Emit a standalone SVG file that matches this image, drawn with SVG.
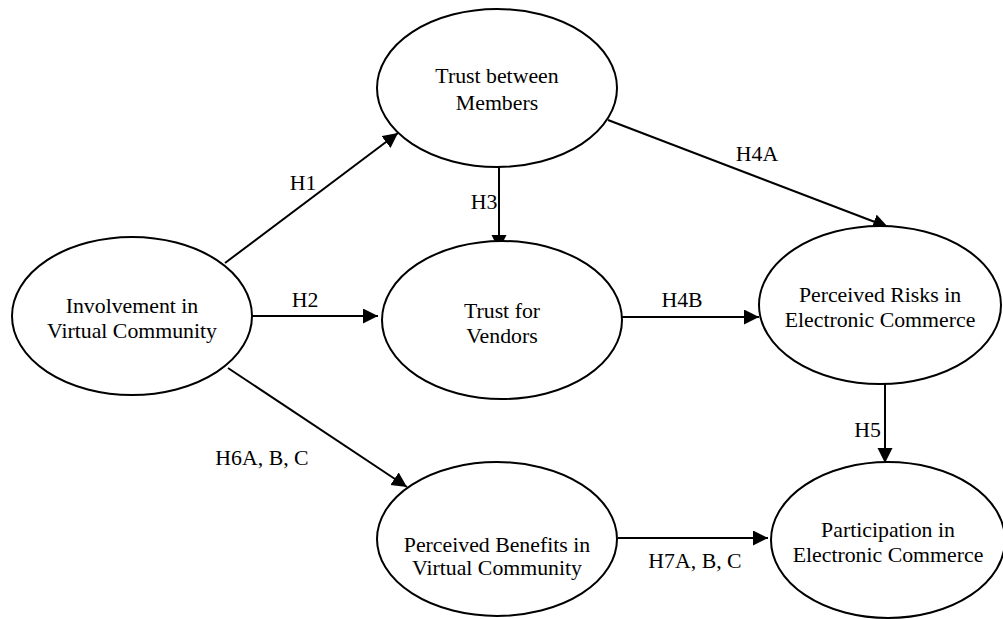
<svg xmlns="http://www.w3.org/2000/svg" width="1003" height="619" viewBox="0 0 1003 619">
<style>
.node ellipse{fill:#fff;stroke:#000;stroke-width:2}
text{font-family:"Liberation Serif","Times New Roman",serif;font-size:21.8px;fill:#000}
.node text{text-anchor:middle}
.edge line{stroke:#000;stroke-width:2;fill:none}
.lbl{text-anchor:middle}
</style>
<defs>
<marker id="arr" markerUnits="userSpaceOnUse" markerWidth="16" markerHeight="16" refX="15" refY="7.5" orient="auto">
<path d="M0,0 L15,7.5 L0,15 Z" fill="#000"/>
</marker>
</defs>
<rect width="1003" height="619" fill="#fff"/>
<g id="edges" class="edge">
<line x1="225" y1="263" x2="398" y2="133" marker-end="url(#arr)"/>
<line x1="252" y1="316" x2="378" y2="316" marker-end="url(#arr)"/>
<line x1="499" y1="166" x2="499" y2="250" marker-end="url(#arr)"/>
<line x1="608" y1="120" x2="888" y2="227" marker-end="url(#arr)"/>
<line x1="622" y1="317" x2="759" y2="317" marker-end="url(#arr)"/>
<line x1="885" y1="383" x2="885" y2="463" marker-end="url(#arr)"/>
<line x1="228" y1="368" x2="407" y2="487" marker-end="url(#arr)"/>
<line x1="618" y1="538" x2="768" y2="538" marker-end="url(#arr)"/>
</g>
<g id="edge-labels">
<text class="lbl" x="303" y="190">H1</text>
<text class="lbl" x="305" y="307">H2</text>
<text class="lbl" x="484" y="209">H3</text>
<text class="lbl" x="757" y="161">H4A</text>
<text class="lbl" x="682" y="307">H4B</text>
<text x="881" y="437" text-anchor="end">H5</text>
<text class="lbl" x="262" y="465">H6A, B, C</text>
<text class="lbl" x="695" y="568">H7A, B, C</text>
</g>
<g id="n-trust-members" class="node">
<ellipse cx="497" cy="88" rx="120" ry="79"/>
<text x="497" y="83">Trust between</text>
<text x="497" y="110">Members</text>
</g>
<g id="n-involvement" class="node">
<ellipse cx="132" cy="316" rx="120" ry="79"/>
<text x="132" y="313">Involvement in</text>
<text x="132" y="338">Virtual Community</text>
</g>
<g id="n-trust-vendors" class="node">
<ellipse cx="502" cy="320" rx="120" ry="79"/>
<text x="502" y="318">Trust for</text>
<text x="502" y="343">Vendors</text>
</g>
<g id="n-risks" class="node">
<ellipse cx="880" cy="305" rx="121" ry="79"/>
<text x="880" y="302">Perceived Risks in</text>
<text x="880" y="327">Electronic Commerce</text>
</g>
<g id="n-benefits" class="node">
<ellipse cx="497" cy="539" rx="120" ry="77"/>
<text x="497" y="552">Perceived Benefits in</text>
<text x="497" y="575">Virtual Community</text>
</g>
<g id="n-participation" class="node">
<ellipse cx="888" cy="540" rx="117" ry="78"/>
<text x="888" y="537">Participation in</text>
<text x="888" y="562">Electronic Commerce</text>
</g>
</svg>
